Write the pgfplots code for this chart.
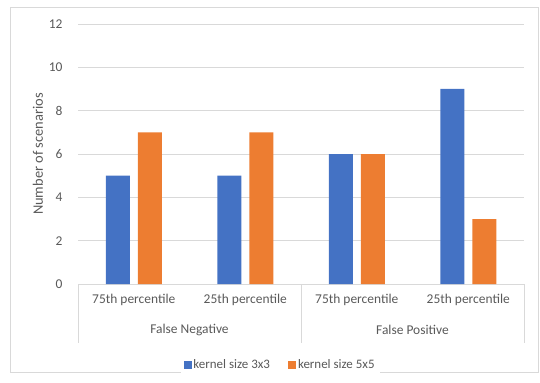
\documentclass[border=0pt]{standalone}
\usepackage{pgfplots}
\pgfplotsset{compat=1.18}
\usepackage{fontspec}
\setmainfont{Carlito}
\definecolor{cblue}{HTML}{4472C4}
\definecolor{corange}{HTML}{ED7D31}
\definecolor{ctext}{HTML}{595959}
\definecolor{cgrid}{HTML}{D9D9D9}
\begin{document}
\begin{tikzpicture}[x=1bp,y=1bp]
\useasboundingbox (0,0) rectangle (540,382);
\draw[cgrid, line width=0.8bp] (10,10) rectangle (538,375);
\begin{axis}[
  at={(78bp,98bp)}, anchor=south west,
  scale only axis, width=446bp, height=260bp,
  ybar=8bp, bar width=24bp,
  xmin=-0.5, xmax=3.5, ymin=0, ymax=12,
  ytick={0,2,...,12},
  xtick={0,1,2,3},
  xticklabels={75th percentile,25th percentile,75th percentile,25th percentile},
  ymajorgrids, grid style={cgrid, line width=0.8bp},
  axis x line*=bottom, axis y line*=left,
  x axis line style={cgrid, line width=0.8bp, -},
  y axis line style={draw=none},
  major tick length=0pt,
  tick label style={font=\fontsize{13.5}{15}\selectfont, text=ctext},
  /pgf/number format/assume math mode=true,
  yticklabel style={xshift=-12bp},
  xticklabel style={yshift=-7bp},
  ylabel={Number of scenarios},
  every axis y label/.style={at={(rel axis cs:0,0.5)}, rotate=90, anchor=center, yshift=40bp,
    font=\fontsize{14.5}{16}\selectfont, text=ctext},
  legend style={at={(0.453,-0.31)}, anchor=center, draw=none, legend columns=2,
    font=\fontsize{13}{15}\selectfont, text=ctext,
    /tikz/every even column/.append style={column sep=16bp}},
  legend image code/.code={\fill[#1] (0bp,-4bp) rectangle (8bp,4bp);},
  clip=false,
]
\addplot[fill=cblue, draw=none] coordinates {(0,5) (1,5) (2,6) (3,9)};
\addplot[fill=corange, draw=none] coordinates {(0,7) (1,7) (2,6) (3,3)};
\legend{kernel size 3x3, kernel size 5x5}
\draw[cgrid, line width=0.8bp] (axis cs:-0.5,0) -- ([yshift=-59bp]axis cs:-0.5,0);
\draw[cgrid, line width=0.8bp] (axis cs:1.5,0) -- ([yshift=-59bp]axis cs:1.5,0);
\draw[cgrid, line width=0.8bp] (axis cs:3.5,0) -- ([yshift=-59bp]axis cs:3.5,0);
\node[font=\fontsize{13.5}{15}\selectfont, text=ctext] at ([yshift=-46bp]axis cs:0.5,0) {False Negative};
\node[font=\fontsize{13.5}{15}\selectfont, text=ctext] at ([yshift=-46bp]axis cs:2.5,0) {False Positive};
\end{axis}
\end{tikzpicture}
\end{document}
